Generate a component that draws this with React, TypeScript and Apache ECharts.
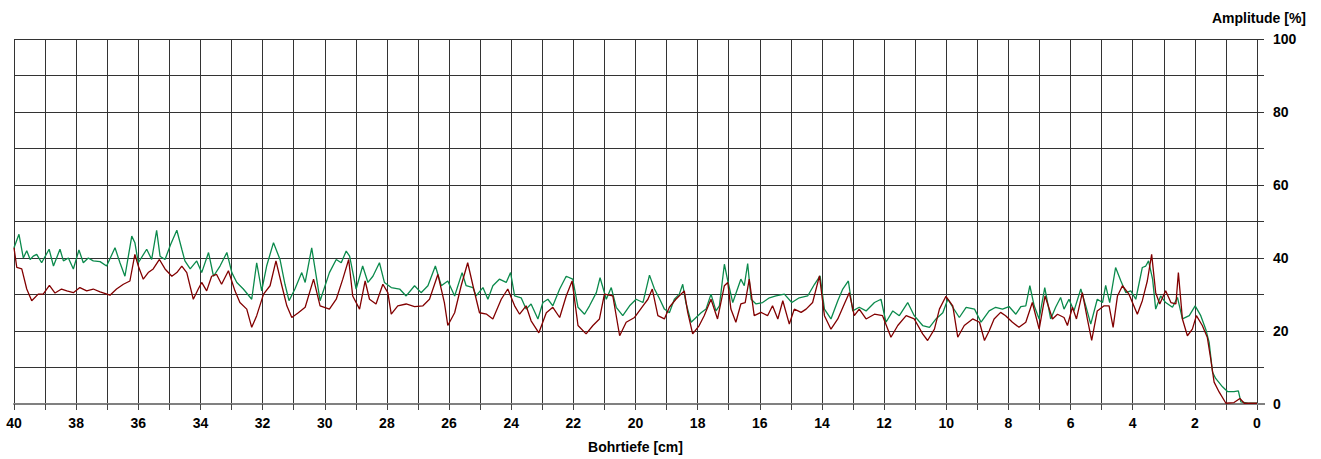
import React, { useEffect, useRef } from "react";
import * as echarts from "echarts";

// depth [cm], amplitude [%]
const greenSeries: [number, number][] = [
  [40.0, 42.8], [39.84, 46.5], [39.7, 40], [39.59, 42], [39.48, 39.6], [39.38, 40.5], [39.27, 41], [39.11, 38.7],
  [38.87, 42.4], [38.73, 37.8], [38.52, 42.4], [38.41, 39.2], [38.25, 40], [38.09, 37], [37.91, 42.2], [37.77, 38.7],
  [37.61, 40], [37.45, 39.2], [37.23, 39], [37.02, 37.8], [36.75, 42.8], [36.59, 38.7], [36.43, 35], [36.21, 46],
  [36.11, 44.2], [36.0, 38.7], [35.73, 42.4], [35.57, 39.6], [35.41, 47.6], [35.3, 40.5], [35.14, 39.6], [34.96, 43.7],
  [34.76, 47.6], [34.6, 42.4], [34.5, 39.2], [34.33, 37], [34.12, 39.2], [33.96, 36], [33.74, 41.5], [33.58, 35],
  [33.37, 37.8], [33.15, 41.5], [32.99, 36], [32.83, 33.3], [32.62, 31.5], [32.35, 28.7], [32.19, 38.7], [32.03, 31],
  [31.87, 37.8], [31.65, 44.2], [31.44, 39.6], [31.28, 32.8], [31.15, 28.3], [30.96, 31.5], [30.74, 36], [30.63, 33.3],
  [30.42, 42.8], [30.15, 28.3], [29.85, 36], [29.63, 39.6], [29.47, 38.7], [29.31, 41.9], [29.2, 40.5], [28.99, 31.5],
  [28.78, 37.8], [28.61, 33.3], [28.45, 35], [28.24, 38.7], [28.08, 33.3], [27.86, 31.9], [27.59, 31.5], [27.38, 29.6],
  [27.11, 32.4], [26.9, 30.5], [26.68, 32.4], [26.44, 37.8], [26.25, 32.4], [26.04, 33.7], [25.82, 29.6], [25.58, 36],
  [25.45, 32.4], [25.23, 31.9], [25.13, 29.6], [24.91, 31.9], [24.75, 28.7], [24.59, 32.4], [24.38, 34.2], [24.16, 33.3],
  [24.02, 36], [23.89, 29.6], [23.68, 29.1], [23.52, 26], [23.36, 27.4], [23.14, 23.3], [22.98, 27.8], [22.82, 28.7],
  [22.66, 26.9], [22.44, 31.5], [22.23, 35], [22.02, 34.2], [21.85, 26.5], [21.64, 24.6], [21.48, 26.9], [21.26, 30.5],
  [21.14, 34.6], [20.94, 28.7], [20.78, 31.9], [20.62, 26.5], [20.41, 24.2], [20.19, 26.9], [19.98, 28.7], [19.76, 27.8],
  [19.55, 35.3], [19.39, 31.5], [19.23, 28.9], [19.07, 26], [18.91, 25], [18.75, 28.7], [18.59, 30.1], [18.48, 32.8],
  [18.38, 27.8], [18.21, 22.4], [18.05, 23.7], [17.89, 25], [17.73, 26], [17.57, 30.1], [17.41, 25.5], [17.3, 26.9],
  [17.14, 38.3], [17.03, 33.7], [16.87, 27.8], [16.61, 34.2], [16.5, 32.4], [16.39, 38.5], [16.28, 28.7], [16.12, 27.4],
  [15.91, 27.8], [15.69, 29.1], [15.48, 29.6], [15.21, 30.1], [14.97, 27.8], [14.73, 29.1], [14.46, 29.6], [14.24, 32.8],
  [14.06, 35.1], [13.92, 26], [13.71, 23.3], [13.49, 28.3], [13.33, 31.5], [13.15, 33.7], [13.01, 25.5], [12.8, 26.5],
  [12.58, 25.5], [12.31, 27.8], [12.1, 28.7], [11.94, 22.4], [11.72, 25.5], [11.51, 24.2], [11.24, 27.8], [11.03, 24.2],
  [10.76, 21.5], [10.54, 21], [10.33, 23.3], [10.11, 25], [9.95, 28.7], [9.79, 26.5], [9.58, 23.7], [9.36, 26.5],
  [9.09, 26], [8.88, 22.4], [8.62, 25.5], [8.41, 26.5], [8.19, 26], [7.98, 26.7], [7.76, 24.6], [7.6, 26.7],
  [7.44, 26.9], [7.31, 32.4], [7.17, 26.9], [7.01, 23.3], [6.83, 31.9], [6.64, 23.3], [6.48, 26.5], [6.32, 29.2],
  [6.21, 26], [6.05, 28.7], [5.89, 25.5], [5.67, 31.5], [5.51, 26.9], [5.35, 21.9], [5.14, 28.7], [4.97, 27.8],
  [4.87, 32.5], [4.74, 27.8], [4.55, 37.4], [4.38, 33.7], [4.22, 30.5], [4.06, 31], [3.9, 28.7], [3.69, 37.4],
  [3.58, 37.8], [3.49, 39.2], [3.36, 34.2], [3.26, 26], [3.1, 29.6], [2.94, 27.8], [2.72, 26.5], [2.56, 29.2],
  [2.4, 23.3], [2.18, 24.2], [1.99, 26.9], [1.81, 24.2], [1.65, 20.5], [1.54, 16.9], [1.43, 8.7], [1.33, 7],
  [1.11, 4.7], [0.95, 3.4], [0.74, 3.4], [0.6, 3.6], [0.52, 0.6], [0.25, 0.2], [0.0, 0.2],
];

const redSeries: [number, number][] = [
  [40.0, 42.8], [39.91, 37.4], [39.75, 37], [39.59, 31.5], [39.43, 28.3], [39.22, 30.1], [39.06, 30.1], [38.86, 32.5],
  [38.68, 30.4], [38.47, 31.5], [38.3, 31], [38.09, 30.5], [37.88, 31.9], [37.66, 31], [37.45, 31.5], [37.23, 30.7],
  [36.91, 29.8], [36.7, 31.5], [36.48, 32.8], [36.27, 33.7], [36.11, 41], [36.0, 37.8], [35.84, 34.2], [35.68, 36],
  [35.52, 37], [35.32, 39.6], [35.14, 37], [34.92, 35], [34.76, 36], [34.6, 37.8], [34.44, 36], [34.23, 28.7],
  [34.07, 31.5], [33.96, 33.3], [33.8, 31], [33.64, 35], [33.48, 35.5], [33.32, 32.8], [33.1, 36.5], [32.89, 31],
  [32.73, 27.8], [32.51, 26], [32.35, 21], [32.19, 24.2], [31.97, 30.1], [31.76, 32.4], [31.57, 39.2], [31.38, 32.4],
  [31.22, 26.9], [31.06, 23.7], [30.85, 25], [30.63, 26.5], [30.36, 34.2], [30.15, 26.9], [29.85, 26], [29.63, 28.7],
  [29.42, 34.2], [29.23, 39.6], [29.1, 29.6], [28.88, 26], [28.7, 33.7], [28.56, 28.7], [28.35, 27.4], [28.13, 32.8],
  [27.97, 30.5], [27.86, 24.6], [27.65, 26.9], [27.38, 27.4], [27.11, 26.7], [26.84, 26.9], [26.63, 28.7], [26.36, 35.5],
  [26.15, 27.8], [26.04, 21.5], [25.82, 25], [25.61, 32.4], [25.4, 38.7], [25.23, 32.4], [25.02, 25], [24.79, 24.6],
  [24.59, 23.3], [24.32, 28.7], [24.11, 31.5], [23.89, 26.9], [23.73, 24.6], [23.52, 26.9], [23.36, 22.8], [23.11, 19.5],
  [22.87, 25], [22.66, 26.5], [22.44, 23.7], [22.23, 29.6], [22.04, 33.7], [21.85, 21.5], [21.59, 19.2], [21.37, 21.5],
  [21.16, 23.3], [21.0, 30.1], [20.73, 29.6], [20.51, 18.7], [20.3, 22.4], [20.03, 23.7], [19.76, 26.9], [19.6, 28.7],
  [19.46, 31.5], [19.28, 24.2], [19.07, 23.3], [18.91, 26.5], [18.7, 28.7], [18.43, 31], [18.32, 25.1], [18.16, 19.2],
  [17.95, 21.5], [17.79, 24.2], [17.57, 28.7], [17.36, 23.3], [17.14, 32.4], [17.03, 33.3], [16.93, 26], [16.77, 22.4],
  [16.61, 27.4], [16.47, 27.8], [16.34, 34.2], [16.18, 24.2], [15.96, 25.1], [15.75, 24.2], [15.59, 26.9], [15.42, 23.3],
  [15.26, 28.3], [15.05, 21.9], [14.89, 26], [14.67, 25.1], [14.51, 26], [14.3, 27.8], [14.08, 35.1], [13.92, 24.2],
  [13.71, 20.5], [13.49, 23.3], [13.28, 27.4], [13.12, 30.5], [12.96, 24.2], [12.8, 26], [12.58, 23.3], [12.31, 24.6],
  [12.05, 24.2], [11.78, 18.3], [11.56, 21.5], [11.29, 24.2], [11.03, 23.3], [10.76, 19.2], [10.6, 17.4], [10.38, 20.5],
  [10.22, 26], [10.01, 29.5], [9.79, 26.9], [9.63, 18.3], [9.42, 21.5], [9.15, 23.3], [8.93, 22.4], [8.77, 17.4],
  [8.62, 20], [8.46, 23.3], [8.25, 25.1], [8.09, 24.2], [7.87, 22.4], [7.66, 21], [7.44, 22.4], [7.23, 27.8],
  [7.01, 20.5], [6.82, 29.6], [6.58, 23.3], [6.42, 24.6], [6.21, 23.7], [6.1, 21.5], [5.94, 26.5], [5.81, 23.3],
  [5.62, 30.5], [5.46, 23.3], [5.32, 17.4], [5.14, 25.5], [4.92, 26.9], [4.76, 26.9], [4.63, 21], [4.49, 29.6],
  [4.33, 32.4], [4.12, 30.1], [3.85, 24.6], [3.69, 28.3], [3.53, 33.7], [3.39, 41], [3.26, 30.5], [3.13, 27.4],
  [2.94, 31], [2.77, 27.8], [2.61, 27.4], [2.53, 36], [2.4, 23.3], [2.24, 18.7], [2.08, 20.5], [1.95, 24.2],
  [1.76, 21.5], [1.6, 18.3], [1.49, 12.4], [1.38, 6], [1.22, 3.3], [1.0, 0.2], [0.74, 0.4], [0.55, 1.5],
  [0.41, 0.2], [0.0, 0.2],
];

const xAxisName = "Bohrtiefe [cm]";
const yAxisName = "Amplitude [%]";

export default function App() {
  const ref = useRef<HTMLDivElement>(null);
  useEffect(() => {
    document.body.style.margin = "0";
    if (!ref.current) return;
    const chart = echarts.init(ref.current, undefined, { renderer: "svg" });
    const font = "Liberation Sans, Arial, sans-serif";
    chart.setOption({
      animation: false,
      backgroundColor: "#ffffff",
      grid: { left: 14, right: 64, top: 39, bottom: 55 },
      graphic: [
        {
          type: "line",
          shape: { x1: 1257, y1: 404, x2: 1265, y2: 404 },
          style: { stroke: "#808080", lineWidth: 2 },
          z: 10,
        },
      ],
      xAxis: {
        type: "value",
        min: 0,
        max: 40,
        interval: 1,
        inverse: true,
        name: xAxisName,
        nameLocation: "middle",
        nameGap: 36,
        nameTextStyle: { fontFamily: font, fontWeight: "bold", fontSize: 14, color: "#000" },
        axisLine: { show: true, lineStyle: { color: "#808080", width: 2 } },
        axisTick: { show: true, length: 6, lineStyle: { color: "#444", width: 1 } },
        axisLabel: {
          margin: 12,
          fontFamily: font,
          fontWeight: "bold",
          fontSize: 14,
          color: "#000",
          formatter: (v: number) => (v % 2 === 0 ? String(v) : ""),
        },
        splitLine: { show: true, lineStyle: { color: "#333", width: 1 } },
      },
      yAxis: {
        type: "value",
        position: "right",
        min: 0,
        max: 100,
        interval: 10,
        name: yAxisName,
        nameLocation: "end",
        nameGap: 14,
        nameTextStyle: {
          fontFamily: font,
          fontWeight: "bold",
          fontSize: 14,
          color: "#000",
          align: "right",
          padding: [0, -49, 0, 0],
        },
        axisLine: { show: false },
        axisTick: { show: true, length: 7, lineStyle: { color: "#333", width: 1 } },
        axisLabel: {
          margin: 16,
          fontFamily: font,
          fontWeight: "bold",
          fontSize: 14,
          color: "#000",
          formatter: (v: number) => (v % 20 === 0 ? String(v) : ""),
        },
        splitLine: { show: true, lineStyle: { color: "#333", width: 1 } },
      },
      series: [
        {
          type: "line",
          data: greenSeries,
          showSymbol: false,
          symbol: "none",
          lineStyle: { color: "#0b8a4c", width: 1.3 },
        },
        {
          type: "line",
          data: redSeries,
          showSymbol: false,
          symbol: "none",
          lineStyle: { color: "#820000", width: 1.3 },
        },
      ],
    });
    return () => chart.dispose();
  }, []);
  return <div ref={ref} style={{ width: 1321, height: 459 }} />;
}
